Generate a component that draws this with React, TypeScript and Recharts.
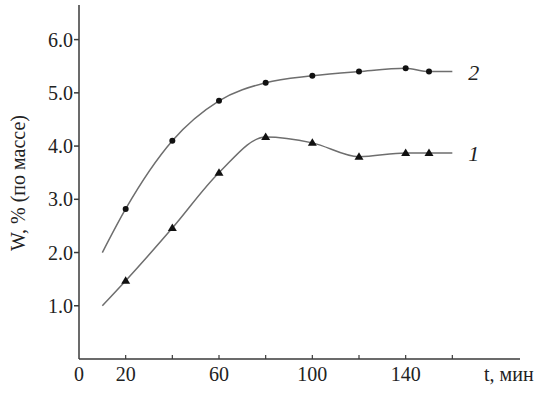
import { LineChart, Line, XAxis, YAxis } from 'recharts'

const times = [10, 20, 40, 60, 80, 100, 120, 140, 150, 160]
const curve1 = [1.0, 1.47, 2.46, 3.5, 4.17, 4.06, 3.8, 3.87, 3.87, 3.87]
const curve2 = [2.0, 2.82, 4.1, 4.85, 5.19, 5.32, 5.4, 5.46, 5.4, 5.4]
const xTicks = [0, 20, 40, 60, 80, 100, 120, 140, 160]
const xLabeled = [0, 20, 60, 100, 140]
const yTicks = [1, 2, 3, 4, 5, 6]

const data = times.map((t, i) => ({ t, c1: curve1[i], c2: curve2[i] }))

const FONT = '"Liberation Serif", "Times New Roman", "DejaVu Serif", serif'
const AXIS = '#3a3a3a'
const LINE = '#6e6e6e'
const TEXT = '#222'

function XTick({ x, y, payload }: any) {
  const v = payload.value
  return (
    <g>
      {v !== 0 && <line x1={x} x2={x} y1={y} y2={y - 4} stroke={AXIS} strokeWidth={1.2} />}
      {xLabeled.includes(v) && (
        <text x={x} y={y + 22} textAnchor="middle" fontFamily={FONT} fontSize={20} fill={TEXT}>{v}</text>
      )}
    </g>
  )
}

function YTick({ x, y, payload }: any) {
  return (
    <text x={x} y={y + 7} textAnchor="end" fontFamily={FONT} fontSize={20} fill={TEXT}>
      {Number(payload.value).toFixed(1)}
    </text>
  )
}

// marker on measured points only, curve ends are bare
function makeDot(kind: 'circle' | 'tri') {
  return (p: any) => {
    const { cx, cy, index } = p
    if (index === 0 || index === data.length - 1) return <g key={index} />
    if (kind === 'circle') return <circle key={index} cx={cx} cy={cy} r={3} fill="#111" />
    return <path key={index} d={`M${cx},${cy - 4.5} L${cx + 4.5},${cy + 3} L${cx - 4.5},${cy + 3} Z`} fill="#111" />
  }
}

function endLabel(text: string) {
  return (p: any) => {
    if (p.index !== data.length - 1) return null
    return (
      <text key="lbl" x={p.x + 16} y={p.y + 8} fontFamily={FONT} fontStyle="italic" fontSize={22} fill={TEXT}>{text}</text>
    )
  }
}

export default function App() {
  return (
    <div style={{ position: 'absolute', left: 0, top: 0, width: 554, height: 398, background: '#fff' }}>
      <LineChart width={554} height={398} data={data} margin={{ top: 5, right: 34, left: 0, bottom: 0 }}>
        <XAxis
          dataKey="t"
          type="number"
          domain={[0, 189]}
          ticks={xTicks}
          interval={0}
          height={39}
          tickSize={0}
          tickMargin={0}
          stroke={AXIS}
          strokeWidth={1.5}
          tick={<XTick />}
        />
        <YAxis
          type="number"
          domain={[0, 6.65]}
          ticks={yTicks}
          interval={0}
          width={79}
          tickSize={5}
          tickMargin={1}
          stroke={AXIS}
          strokeWidth={1.5}
          tick={<YTick />}
        />
        <Line type="monotone" dataKey="c2" stroke={LINE} strokeWidth={1.5} dot={makeDot('circle')} activeDot={false} isAnimationActive={false} label={endLabel('2')} />
        <Line type="monotone" dataKey="c1" stroke={LINE} strokeWidth={1.5} dot={makeDot('tri')} activeDot={false} isAnimationActive={false} label={endLabel('1')} />
      </LineChart>
      <div
        style={{
          position: 'absolute', left: 18, top: 183, transform: 'translate(-50%, -50%) rotate(-90deg)',
          whiteSpace: 'nowrap', fontFamily: FONT, fontSize: 20, lineHeight: 1, color: TEXT,
        }}
      >
        W, % (по массе)
      </div>
      <div style={{ position: 'absolute', left: 484, top: 364, fontFamily: FONT, fontSize: 20, lineHeight: 1, color: TEXT }}>t, мин</div>
    </div>
  )
}
